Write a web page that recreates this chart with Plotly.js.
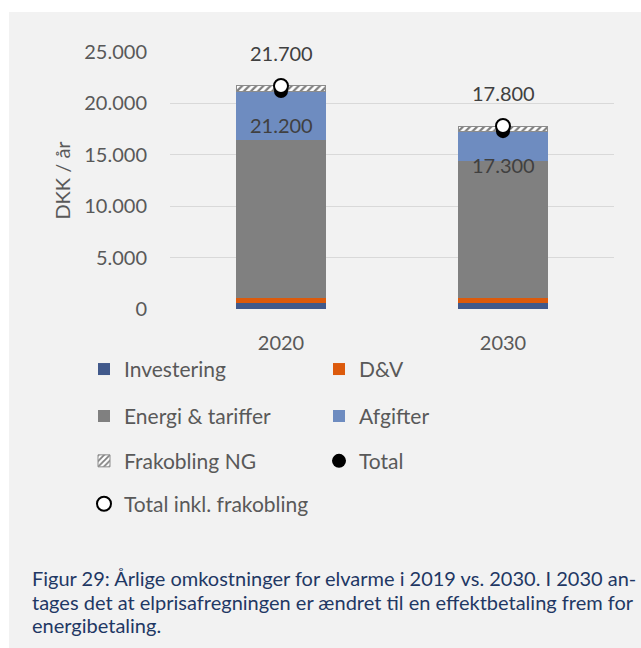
<!DOCTYPE html>
<html>
<head>
<meta charset="utf-8">
<script src="https://cdn.plot.ly/plotly-3.0.1.min.js"></script>
<style>
  html, body { margin: 0; padding: 0; background: #ffffff; width: 641px; height: 648px; overflow: hidden; }
  #chart { position: absolute; left: 9px; top: 12px; width: 632px; height: 636px; }
</style>
</head>
<body>
<div id="chart"></div>
<script>
// ---- data ----
const years = ['2020', '2030'];
const investering = [600, 600];
const dv = [500, 500];
const energi = [15300, 13300];
const afgifter = [4800, 2900];
const frakobling = [500, 500];
const total = [21200, 17300];
const totalInkl = [21700, 17800];
const captionLines = [
  'Figur 29: Årlige omkostninger for elvarme i 2019 vs. 2030. I 2030 an-',
  'tages det at elprisafregningen er ændret til en effektbetaling frem for',
  'energibetaling.'
];

function fmt(v) { return String(v).replace(/\B(?=(\d{3})+(?!\d))/g, '.'); }

const W = 632, H = 636;
const mL = 161, mR = 27, mT = 40, mB = 338.5;
const gw = W - mL - mR, gh = H - mT - mB;
const px = x => (x - mL) / gw;
const py = y => (H - mB - y) / gh;

const FONT = 'Lato, "Open Sans", sans-serif';
const lblFont = { family: FONT, size: 20, color: '#404040' };

const traces = [
  { type: 'bar', name: 'Investering', x: years, y: investering, legend: 'legend',
    marker: { color: '#41598b' } },
  { type: 'bar', name: 'D&V', x: years, y: dv, legend: 'legend',
    marker: { color: '#dc5a0c' } },
  { type: 'bar', name: 'Energi & tariffer', x: years, y: energi, legend: 'legend2',
    marker: { color: '#808080' } },
  { type: 'bar', name: 'Afgifter', x: years, y: afgifter, legend: 'legend2',
    marker: { color: '#6e8cc0' } },
  { type: 'bar', name: 'Frakobling NG', x: years, y: frakobling, legend: 'legend3',
    marker: { color: '#ffffff', line: { color: '#8c8c8c', width: 1 },
      pattern: { shape: '/', fgcolor: '#7f7f7f', bgcolor: '#ffffff', size: 5, solidity: 0.45 } } },
  { type: 'scatter', mode: 'markers', name: 'Total', x: years, y: total, legend: 'legend3',
    marker: { color: '#000000', size: 14 } },
  { type: 'scatter', mode: 'markers', name: 'Total inkl. frakobling', x: years, y: totalInkl, legend: 'legend4',
    marker: { color: '#ffffff', size: 14, line: { color: '#000000', width: 2 } } }
];

const annotations = [];
years.forEach((yr, i) => {
  annotations.push({ x: i, y: totalInkl[i], xref: 'x', yref: 'y', text: fmt(totalInkl[i]),
    showarrow: false, yshift: 33, font: lblFont });
  annotations.push({ x: i, y: total[i], xref: 'x', yref: 'y', text: fmt(total[i]),
    showarrow: false, yshift: -34, font: lblFont });
});
const capY = [567, 591, 614];
captionLines.forEach((t, i) => {
  annotations.push({ x: px(21), y: py(capY[i]), xref: 'paper', yref: 'paper', xanchor: 'left', yanchor: 'middle',
    text: t, showarrow: false, font: { family: FONT, size: 20, color: '#1f3864' } });
});

function leg(yDiv) {
  return { orientation: 'h', x: px(75), y: py(yDiv), xanchor: 'left', yanchor: 'middle',
    font: { family: FONT, size: 21, color: '#595959' }, bgcolor: 'rgba(0,0,0,0)',
    entrywidth: 190, entrywidthmode: 'pixels', traceorder: 'normal' };
}

const layout = {
  width: W, height: H,
  paper_bgcolor: '#f2f2f2', plot_bgcolor: '#f2f2f2',
  margin: { l: mL, r: mR, t: mT, b: mB, pad: 0 },
  separators: ',.',
  font: { family: FONT, size: 20, color: '#595959' },
  barmode: 'stack', bargap: 0.595,
  hovermode: false,
  xaxis: { type: 'category', range: [-0.5, 1.5], showgrid: false, zeroline: false, showline: false,
    ticks: 'outside', ticklen: 16, tickcolor: 'rgba(0,0,0,0)',
    tickfont: { family: FONT, size: 20, color: '#595959' } },
  yaxis: { range: [0, 25000], dtick: 5000, tickformat: ',d', showgrid: true, gridcolor: '#d9d9d9', gridwidth: 1,
    zeroline: false, showline: false, ticks: 'outside', ticklen: 18, tickcolor: 'rgba(0,0,0,0)',
    tickfont: { family: FONT, size: 20, color: '#595959' },
    title: { text: 'DKK / år', standoff: 8, font: { family: FONT, size: 20, color: '#595959' } } },
  legend: leg(358),
  legend2: leg(405),
  legend3: leg(450),
  legend4: leg(493),
  annotations: annotations,
  showlegend: true
};

Plotly.newPlot('chart', traces, layout, { displayModeBar: false });
</script>
</body>
</html>
